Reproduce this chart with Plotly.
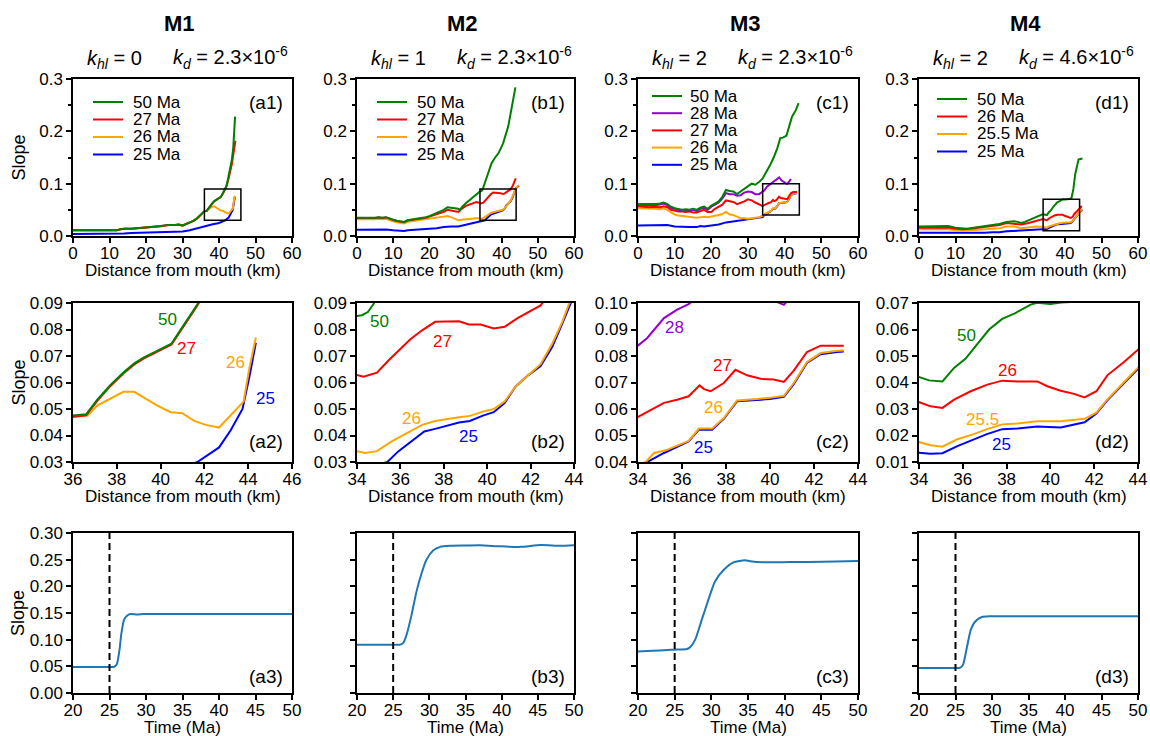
import plotly.graph_objects as go
from plotly.subplots import make_subplots

# ---------------------------------------------------------------- data
# Channel slope vs distance from mouth (km), one set of profiles per model.
# M1
m1_x50 = [0, 2, 4, 6, 8, 10, 12, 13, 14, 16, 18, 20, 22, 24, 25, 26, 28, 29, 30, 31, 32, 33, 34, 35, 36,
          36.6, 37.1, 37.7, 38.3, 38.8, 39.2, 39.9, 40.5, 41.1, 41.7, 42.0, 42.5, 43.0, 43.5, 43.9, 44.2, 44.4]
m1_s50 = [.011, .011, .011, .0105, .011, .0105, .011, .013, .014, .014, .015, .016, .017, .019, .020, .021,
          .021, .022, .020, .023, .026, .029, .034, .040, .0475, .048, .0534, .059, .0638, .0672, .0693,
          .0722, .0747, .0822, .0897, .095, .110, .126, .145, .168, .200, .228]
m1_x27 = [0, 2, 4, 6, 8, 10, 12, 13, 14, 16, 18, 20, 22, 24, 25, 26, 28, 29, 30, 31, 32, 33, 34, 35, 36,
          36.6, 37.1, 37.7, 38.3, 38.8, 39.2, 39.9, 40.5, 41.1, 41.7, 42.0, 42.5, 43.0, 43.5, 43.9, 44.2, 44.5]
m1_s27 = [.0108, .0108, .0108, .0103, .0108, .0103, .0108, .0128, .0138, .0138, .0148, .0158, .0168, .0188,
          .0198, .0208, .0208, .0218, .0198, .0228, .0258, .0288, .0337, .0397, .0471, .0476, .0530, .0586,
          .0634, .0668, .0689, .0718, .0743, .0818, .0893, .094, .106, .120, .137, .155, .168, .182]
m1_x26 = [0, 2, 4, 6, 8, 10, 12, 13, 14, 16, 18, 20, 22, 24, 25, 26, 28, 29, 30, 31, 32, 33, 34, 35, 36,
          36.67, 37.1, 37.7, 38.3, 38.8, 39.4, 39.85, 40.46, 40.99, 41.53, 42.06, 42.67, 43.2, 43.79, 44.05, 44.35]
m1_s26 = [.0108, .0108, .0108, .0103, .0108, .0103, .0108, .0128, .0138, .0138, .0148, .0158, .0168, .0188,
          .0198, .0208, .0208, .0218, .0198, .0228, .0258, .0288, .0337, .0397, .0471, .0475, .0513, .054,
          .0565, .0565, .0534, .0513, .0488, .0484, .0455, .044, .043, .0478, .0528, .0653, .0770]
m1_x25 = [0, 2, 4, 6, 8, 10, 12, 14, 16, 18, 20, 22, 24, 26, 28, 30, 32, 34, 36, 38, 40, 41.68, 42.67, 43.2,
          43.74, 44.05, 44.35]
m1_s25 = [.004, .004, .0042, .004, .0041, .004, .0045, .005, .0055, .006, .0065, .007, .0074, .0078, .008,
          .0085, .011, .015, .019, .022, .025, .030, .0355, .042, .050, .062, .075]

# M2
m2_x50 = [0, 1, 2, 3, 4, 5, 6, 7, 8, 9, 10, 11, 12, 13, 14, 15, 16, 17, 18, 19, 20, 21, 22, 23, 24, 25, 26,
          27, 28, 28.5, 29, 30, 31, 32, 33, 34, 34.23, 34.5, 34.77, 35.5, 36.3, 37.2, 38.2, 39.1, 40.4, 41.1,
          41.8, 42.5, 43.2, 43.8]
m2_s50 = [.035, .035, .035, .034, .035, .035, .036, .035, .036, .033, .031, .029, .028, .027, .030, .031,
          .033, .034, .035, .036, .038, .041, .044, .046, .050, .055, .054, .054, .052, .050, .055, .062,
          .068, .074, .079, .0851, .0854, .0866, .0897, .105, .122, .139, .150, .158, .177, .192, .209,
          .235, .260, .284]
m2_x27 = [0, 1, 2, 3, 4, 5, 6, 7, 8, 9, 10, 11, 12, 13, 14, 15, 16, 17, 18, 19, 20, 21, 22, 23, 24, 25, 26,
          27, 28, 29, 30, 31, 32, 33, 34, 34.3, 34.92, 35.46, 36.46, 37.0, 37.6, 38.5, 38.7, 39.15, 39.7,
          40.3, 40.8, 41.4, 41.9, 42.46, 43.0, 43.5, 43.9]
m2_s27 = [.0345, .0345, .0345, .0335, .0345, .0345, .0355, .0345, .0355, .0325, .0305, .0285, .0275, .0265,
          .0295, .0305, .0325, .0335, .034, .035, .037, .039, .041, .043, .046, .050, .049, .048, .046,
          .052, .057, .060, .063, .065, .0628, .0622, .0637, .0684, .0763, .0797, .0829, .0829, .0831,
          .0819, .0819, .0804, .081, .0843, .0866, .0891, .095, .103, .110]
m2_x26 = [0, 1, 2, 3, 4, 5, 6, 7, 8, 9, 10, 11, 12, 13, 14, 15, 16, 17, 18, 19, 20, 21, 22, 23, 24, 25, 26,
          27, 28, 29, 30, 31, 32, 33, 34, 34.38, 34.92, 35.6, 36.4, 37.0, 37.6, 38.15, 38.7, 39.2, 39.8,
          40.3, 40.8, 41.3, 41.9, 42.46, 43.0, 43.46, 43.77, 44.2, 44.8]
m2_s26 = [.032, .032, .032, .031, .032, .032, .033, .032, .033, .030, .028, .026, .025, .024, .027, .028,
          .029, .030, .031, .031, .032, .033, .035, .036, .037, .038, .036, .033, .030, .031, .032, .033,
          .034, .034, .0341, .0334, .0341, .0378, .0415, .044, .0455, .0463, .0469, .0474, .049, .05,
          .0528, .0584, .0628, .0669, .0747, .0829, .0897, .094, .097]
m2_x25 = [0, 2, 4, 6, 8, 10, 12, 13, 14, 16, 18, 20, 22, 24, 25, 26, 28, 30, 32, 33, 34, 35.4, 35.9, 36.5,
          37.1, 37.6, 38.15, 38.7, 39.2, 39.8, 40.3, 40.8, 41.3, 41.9, 42.46, 43.0, 43.46, 43.85, 44.3, 44.8]
m2_s25 = [.012, .012, .012, .012, .0125, .011, .010, .0095, .011, .012, .013, .013, .015, .017, .018, .018,
          .018, .021, .024, .026, .027, .030, .034, .0377, .0415, .0425, .0438, .0449, .0455, .0475, .0488,
          .0522, .0584, .0628, .0662, .0735, .0822, .090, .094, .096]

# M3
m3_x50 = [0, 1, 2, 3, 4, 5, 6, 7, 8, 9, 10, 11, 12, 13, 14, 15, 16, 17, 18, 19, 20, 21, 22, 23, 24, 25, 26,
          27, 28, 29, 30, 31, 32, 33, 34, 35, 36, 37, 38, 38.8, 39.5, 40.5, 41.2, 42, 43, 43.8]
m3_s50 = [.061, .061, .061, .060, .061, .061, .062, .064, .061, .056, .053, .052, .050, .051, .050, .052,
          .050, .054, .056, .052, .058, .062, .066, .075, .088, .086, .085, .080, .085, .090, .094, .100,
          .098, .103, .110, .122, .135, .150, .168, .187, .188, .192, .210, .228, .240, .254]
m3_x28 = [0, 1, 2, 3, 4, 5, 6, 7, 8, 9, 10, 11, 12, 13, 14, 15, 16, 17, 18, 19, 20, 21, 22, 23, 24, 25, 26,
          27, 28, 29, 30, 31, 32, 33, 34, 34.42, 35.18, 35.78, 36.3, 37, 37.8, 38.5, 39.2, 40.0, 40.63,
          41.2, 41.7]
m3_s28 = [.059, .059, .059, .058, .059, .059, .060, .062, .059, .054, .052, .050, .048, .049, .048, .050,
          .048, .052, .054, .050, .056, .060, .064, .072, .082, .080, .080, .077, .078, .083, .085, .084,
          .080, .080, .0839, .0868, .0943, .0975, .0996, .104, .108, .112, .106, .1015, .0993, .104, .109]
m3_x27 = [0, 1, 2, 3, 4, 5, 6, 7, 8, 9, 10, 11, 12, 13, 14, 15, 16, 17, 18, 19, 20, 21, 22, 23, 24, 25, 26,
          27, 28, 29, 30, 31, 32, 33, 34, 34.57, 35.18, 35.78, 36.3, 36.8, 37.0, 37.3, 37.9, 38.43, 38.96,
          39.57, 40.17, 40.63, 41.08, 41.68, 42.3, 43.2, 43.35]
m3_s27 = [.057, .056, .056, .055, .056, .056, .055, .057, .055, .050, .048, .047, .047, .046, .047, .045,
          .045, .047, .050, .046, .046, .052, .056, .060, .068, .066, .065, .061, .063, .066, .070, .068,
          .064, .060, .057, .0597, .0623, .0635, .0648, .0689, .0675, .0667, .0698, .0748, .0727, .0714,
          .0711, .0702, .0745, .0815, .0839, .0839, .0839]
m3_x26 = [0, 1, 2, 3, 4, 5, 6, 7, 8, 9, 10, 11, 12, 13, 14, 15, 16, 17, 18, 19, 20, 21, 22, 23, 24, 25, 26,
          27, 28, 29, 30, 31, 32, 33, 34.35, 34.73, 35.26, 35.78, 36.3, 36.77, 37.37, 37.9, 38.5, 39.4,
          40.0, 40.63, 41.08, 41.68, 42.3, 43.05, 43.35]
m3_s26 = [.053, .053, .052, .052, .053, .052, .051, .053, .050, .045, .041, .039, .038, .037, .036, .035,
          .035, .036, .037, .036, .037, .039, .040, .042, .046, .041, .040, .037, .034, .034, .033, .034,
          .035, .036, .040, .0434, .0444, .0461, .048, .0526, .0526, .0566, .0632, .0638, .0642, .065,
          .0698, .0777, .0811, .082, .0821]
m3_x25 = [0, 2, 4, 6, 8, 10, 12, 14, 16, 17, 18, 20, 22, 24, 26, 27, 28, 30, 32, 33, 34, 34.42, 35.18, 36.3,
          36.77, 37.37, 37.9, 38.5, 39.4, 40.0, 40.63, 41.08, 41.68, 42.3, 43.05, 43.35]
m3_s25 = [.020, .020, .020, .020, .021, .018, .017, .017, .017, .019, .018, .020, .022, .026, .028, .028,
          .029, .031, .033, .034, .036, .040, .0434, .0478, .0522, .0522, .0563, .0629, .0634, .0638,
          .0646, .0694, .0774, .0807, .0815, .0817]

# M4
m4_x50 = [0, 2, 4, 6, 8, 10, 12, 13, 14, 16, 18, 20, 22, 24, 25, 26, 27, 28, 29, 30, 31, 32, 33, 34, 34.46,
          35.07, 35.6, 36.13, 36.66, 37.2, 37.8, 38.4, 39.1, 39.4, 40.0, 40.5, 41.2, 41.8, 42.3, 42.8, 43.3,
          43.7, 44.2, 44.8]
m4_s50 = [.018, .018, .018, .018, .019, .016, .015, .014, .015, .017, .019, .020, .023, .027, .028, .028,
          .027, .025, .027, .030, .033, .036, .040, .0421, .0408, .0404, .0455, .049, .0545, .060, .064,
          .0662, .0694, .0701, .0696, .0702, .0705, .073, .090, .118, .135, .146, .147, .148]
m4_x26 = [0, 2, 4, 6, 8, 10, 12, 14, 16, 18, 20, 22, 24, 26, 28, 30, 32, 33, 34, 34.53, 35.07, 35.6, 36.36,
          37.12, 37.8, 38.5, 39.4, 39.86, 40.47, 41.08, 41.56, 42.1, 42.6, 43.36, 44.0, 44.6]
m4_s26 = [.016, .016, .016, .016, .016, .014, .013, .014, .016, .018, .019, .021, .025, .024, .022, .025,
          .029, .031, .0326, .031, .0304, .0335, .0367, .0392, .0407, .0404, .0404, .0386, .0369, .0357,
          .0344, .0367, .0427, .0477, .0524, .0573]
m4_x255 = [0, 2, 4, 6, 8, 10, 12, 14, 16, 18, 20, 22, 24, 26, 28, 30, 32, 34, 34.53, 35.07, 35.75, 36.5,
           37.1, 37.8, 38.5, 39.4, 40.47, 41.56, 42.1, 42.6, 43.36, 44.0, 44.8]
m4_s255 = [.013, .013, .013, .013, .013, .011, .010, .011, .012, .013, .014, .015, .018, .018, .015, .016,
           .018, .0175, .0163, .0158, .0186, .0205, .0224, .0242, .0245, .0254, .0254, .0263, .0286, .0336,
           .0399, .0456, .051]
m4_x25 = [0, 2, 4, 6, 8, 10, 12, 14, 16, 18, 20, 22, 24, 26, 28, 30, 32, 34, 34.53, 35.07, 35.75, 36.5,
          37.1, 37.8, 38.5, 39.4, 40.47, 41.56, 42.1, 42.6, 43.36, 44.0, 44.8]
m4_s25 = [.006, .006, .006, .006, .006, .005, .005, .005, .006, .006, .007, .007, .009, .010, .010, .011,
          .012, .0135, .0131, .0133, .016, .0186, .0205, .0224, .0226, .0234, .023, .025, .0283, .0333,
          .0396, .0452, .050]

# Zoomed windows (x range, y range) shown in the second row
m1_zoom_x, m1_zoom_y = [36, 46], [0.03, 0.09]
m2_zoom_x, m2_zoom_y = [34, 44], [0.03, 0.09]
m3_zoom_x, m3_zoom_y = [34, 44], [0.04, 0.10]
m4_zoom_x, m4_zoom_y = [34, 44], [0.01, 0.07]

# Maximum channel slope through time (Ma)
m1_t = [20, 22, 24, 25, 25.57, 26.0, 26.4, 26.6, 27.0, 27.4, 27.85, 28.77, 29.7, 32, 35, 40, 45, 50]
m1_smax = [.0488, .0488, .0488, .0488, .0488, .054, .084, .109, .1375, .145, .148, .147, .148, .148, .148,
           .148, .148, .148]
m2_t = [20, 22, 24, 25, 25.9, 26.4, 26.85, 27.55, 28.24, 28.94, 29.6, 30.56, 31.5, 32.9, 35, 37, 39.8,
        42.6, 45.4, 48.1, 50]
m2_smax = [.0906, .0906, .0906, .0906, .0906, .094, .109, .147, .191, .225, .25, .2675, .274, .276, .2765,
           .277, .275, .274, .2775, .276, .277]
m3_t = [20, 22, 24, 24.86, 26.7, 27.1, 27.8, 28.7, 29.6, 30.5, 31.7, 33.0, 34.6, 35.3, 37.1, 40.8, 45.3, 50]
m3_smax = [.078, .079, .0805, .0813, .0825, .0856, .100, .1375, .175, .209, .231, .245, .249, .247, .245,
           .2456, .246, .2475]
m4_t = [20, 22, 24, 25, 25.53, 26.0, 26.54, 27.1, 27.7, 28.6, 29.74, 32, 35, 40, 45, 50]
m4_smax = [.0469, .0469, .0469, .0469, .0469, .052, .084, .119, .134, .1425, .144, .144, .144, .144, .144,
           .144]

onset_time = 25  # Ma

# ------------------------------------------------------------- styling
W, H = 1150, 736
FONT = "Liberation Sans, Arial, Helvetica, sans-serif"
GREEN, PURPLE, RED, ORANGE, BLUE = "#008000", "#9400d3", "#ff0000", "#ffa500", "#0000ff"
TIME_COLOR = "#1f77b4"

COLS = [(73, 292), (357, 574), (638, 858), (919, 1138)]   # panel left/right in px
ROWS = [(79, 236), (303, 462), (533, 693)]               # panel top/bottom in px


def px(xp):
    return xp / W


def py(yp):
    return 1 - yp / H


models = [
    dict(title="M1", khl="0", kd="2.3", tag="a",
         series=[("50 Ma", "50", GREEN, m1_x50, m1_s50), ("27 Ma", "27", RED, m1_x27, m1_s27),
                 ("26 Ma", "26", ORANGE, m1_x26, m1_s26), ("25 Ma", "25", BLUE, m1_x25, m1_s25)],
         zx=m1_zoom_x, zy=m1_zoom_y, t=m1_t, s=m1_smax),
    dict(title="M2", khl="1", kd="2.3", tag="b",
         series=[("50 Ma", "50", GREEN, m2_x50, m2_s50), ("27 Ma", "27", RED, m2_x27, m2_s27),
                 ("26 Ma", "26", ORANGE, m2_x26, m2_s26), ("25 Ma", "25", BLUE, m2_x25, m2_s25)],
         zx=m2_zoom_x, zy=m2_zoom_y, t=m2_t, s=m2_smax),
    dict(title="M3", khl="2", kd="2.3", tag="c",
         series=[("50 Ma", "50", GREEN, m3_x50, m3_s50), ("28 Ma", "28", PURPLE, m3_x28, m3_s28),
                 ("27 Ma", "27", RED, m3_x27, m3_s27), ("26 Ma", "26", ORANGE, m3_x26, m3_s26),
                 ("25 Ma", "25", BLUE, m3_x25, m3_s25)],
         zx=m3_zoom_x, zy=m3_zoom_y, t=m3_t, s=m3_smax),
    dict(title="M4", khl="2", kd="4.6", tag="d",
         series=[("50 Ma", "50", GREEN, m4_x50, m4_s50), ("26 Ma", "26", RED, m4_x26, m4_s26),
                 ("25.5 Ma", "25.5", ORANGE, m4_x255, m4_s255), ("25 Ma", "25", BLUE, m4_x25, m4_s25)],
         zx=m4_zoom_x, zy=m4_zoom_y, t=m4_t, s=m4_smax),
]

# placement of the in-panel legend (px offsets from panel top-left): line start, line end, text, first row, step
legend_layout = [(20, 50, 58, 23, 17.5), (20, 50, 58, 23, 17.5), (14, 44, 50, 17, 17.2), (18, 48, 56, 20, 17.5)]

# curve labels in the zoomed panels (data coordinates)
zoom_label_pos = [
    {"50": (40.3, 0.0837), "27": (41.2, 0.0728), "26": (43.4, 0.0676), "25": (44.8, 0.054)},
    {"50": (35.03, 0.0831), "27": (37.92, 0.0756), "26": (36.5, 0.0465), "25": (39.15, 0.0396)},
    {"28": (35.68, 0.0908), "27": (37.83, 0.0764), "26": (37.42, 0.0606), "25": (36.97, 0.0455)},
    {"50": (36.18, 0.0578), "26": (38.03, 0.0445), "25.5": (36.9, 0.026), "25": (37.76, 0.0165)},
]

fig = make_subplots(rows=3, cols=4)

annotations = []
shapes = []


def axis_names(r, c):
    i = r * 4 + c + 1
    s = "" if i == 1 else str(i)
    return "xaxis" + s, "yaxis" + s, "x" + s, "y" + s


def base_axis():
    return dict(showline=True, mirror=True, linecolor="black", linewidth=1.5, ticks="outside",
                ticklen=5, tickwidth=1.5, tickcolor="black", showgrid=False, zeroline=False,
                tickfont=dict(family=FONT, size=17, color="black"), automargin=False)


for c, m in enumerate(models):
    left, right = COLS[c]
    # panel titles
    annotations.append(dict(text="<b>%s</b>" % m["title"], x=px((left + right) / 2 - 3), y=py(23),
                            xref="paper", yref="paper", showarrow=False, xanchor="center", yanchor="middle",
                            font=dict(family=FONT, size=22, color="black")))
    annotations.append(dict(text="<i>k</i><sub><i>hl</i></sub> = %s" % m["khl"], x=px(left + 12), y=py(59),
                            xref="paper", yref="paper", showarrow=False, xanchor="left", yanchor="middle",
                            font=dict(family=FONT, size=20, color="black")))
    annotations.append(dict(text="<i>k</i><sub><i>d</i></sub> = %s×10<sup>-6</sup>" % m["kd"],
                            x=px(left + 98), y=py(57), xref="paper", yref="paper", showarrow=False,
                            xanchor="left", yanchor="middle", font=dict(family=FONT, size=20, color="black")))

    for r in range(3):
        xa, ya, xr, yr = axis_names(r, c)
        top, bottom = ROWS[r]
        xax = base_axis()
        yax = base_axis()
        xax.update(domain=[px(left), px(right)], anchor=yr, ticklabelstandoff=-4)
        yax.update(domain=[py(bottom), py(top)], anchor=xr)
        if r == 0:
            xax.update(range=[0, 60], dtick=10, tick0=0)
            yax.update(range=[0, 0.3], dtick=0.1, tick0=0, tickformat=".1f",
                       minor=dict(dtick=0.05, tick0=0, ticks="outside", ticklen=3, tickwidth=1.5,
                                  tickcolor="black", showgrid=False))
        elif r == 1:
            xax.update(range=m["zx"], dtick=2, tick0=0)
            yax.update(range=m["zy"], dtick=0.01, tick0=0, tickformat=".2f")
        else:
            xax.update(range=[20, 50], dtick=5, tick0=0)
            yax.update(range=[0, 0.3], dtick=0.05, tick0=0, tickformat=".2f", showticklabels=(c == 0))
        fig.layout[xa] = xax
        fig.layout[ya] = yax

        # panel tag
        if r == 0:
            ty = top + 23
        elif r == 1:
            ty = bottom - 20
        else:
            ty = bottom - 17
        annotations.append(dict(text="(%s%d)" % (m["tag"], r + 1), x=px(right - 7), y=py(ty),
                                xref="paper", yref="paper", showarrow=False, xanchor="right",
                                yanchor="middle", font=dict(family=FONT, size=19, color="black")))
        # axis titles
        xt = "Time (Ma)" if r == 2 else "Distance from mouth (km)"
        annotations.append(dict(text=xt, x=px((left + right) / 2), y=py(bottom + 34), xref="paper",
                                yref="paper", showarrow=False, xanchor="center", yanchor="middle",
                                font=dict(family=FONT, size=17, color="black")))
        if c == 0:
            annotations.append(dict(text="Slope", x=px(18), y=py((top + bottom) / 2), xref="paper",
                                    yref="paper", showarrow=False, textangle=-90, xanchor="center",
                                    yanchor="middle", font=dict(family=FONT, size=18, color="black")))

    # profiles: full view (row 1) and zoomed view (row 2)
    for r in (0, 1):
        for name, short, color, xs, ys in reversed(m["series"]):
            fig.add_trace(go.Scatter(x=xs, y=ys, mode="lines", name=name, showlegend=False,
                                     line=dict(color=color, width=2)), row=r + 1, col=c + 1)

    # zoom window outline in the full view
    _, _, xr1, yr1 = axis_names(0, c)
    shapes.append(dict(type="rect", xref=xr1, yref=yr1, x0=m["zx"][0], x1=m["zx"][1],
                       y0=m["zy"][0], y1=m["zy"][1], line=dict(color="black", width=1.5)))

    # legend of the full view
    lx0, lx1, tx, first, step = legend_layout[c]
    for k, (name, short, color, xs, ys) in enumerate(m["series"]):
        yy = ROWS[0][0] + first + k * step
        shapes.append(dict(type="line", xref="paper", yref="paper", x0=px(left + lx0), x1=px(left + lx1),
                           y0=py(yy), y1=py(yy), line=dict(color=color, width=2)))
        annotations.append(dict(text=name, x=px(left + tx), y=py(yy), xref="paper", yref="paper",
                                showarrow=False, xanchor="left", yanchor="middle",
                                font=dict(family=FONT, size=17, color="black")))

    # curve labels in the zoomed view
    _, _, xr2, yr2 = axis_names(1, c)
    for name, short, color, xs, ys in m["series"]:
        if short in zoom_label_pos[c]:
            lx, ly = zoom_label_pos[c][short]
            annotations.append(dict(text=short, x=lx, y=ly, xref=xr2, yref=yr2, showarrow=False,
                                    xanchor="center", yanchor="middle",
                                    font=dict(family=FONT, size=17, color=color)))

    # maximum slope through time
    fig.add_trace(go.Scatter(x=m["t"], y=m["s"], mode="lines", showlegend=False,
                             line=dict(color=TIME_COLOR, width=2, shape="spline", smoothing=0.6)),
                  row=3, col=c + 1)
    _, _, xr3, yr3 = axis_names(2, c)
    shapes.append(dict(type="line", xref=xr3, yref=yr3 + " domain", x0=onset_time, x1=onset_time,
                       y0=0, y1=1, line=dict(color="black", width=2, dash="7px,4px")))

fig.update_layout(width=W, height=H, margin=dict(l=0, r=0, t=0, b=0), plot_bgcolor="white",
                  paper_bgcolor="white", showlegend=False, annotations=annotations, shapes=shapes,
                  font=dict(family=FONT, size=17, color="black"))

fig.write_html("out.html")
